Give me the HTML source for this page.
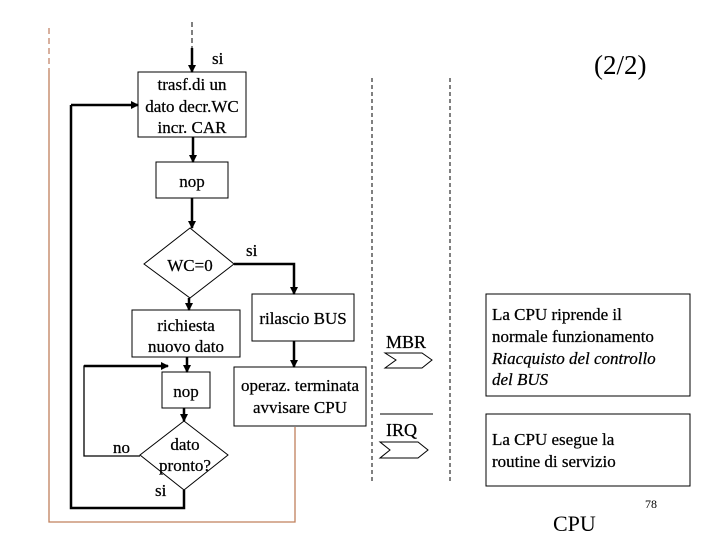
<!DOCTYPE html>
<html><head><meta charset="utf-8"><style>
html,body{margin:0;padding:0;background:#fff;width:720px;height:540px;overflow:hidden}
svg{display:block}
text{font-family:"Liberation Serif",serif;fill:#000;stroke:#000;stroke-width:0.25}
</style></head><body>
<svg width="720" height="540" viewBox="0 0 720 540" xmlns="http://www.w3.org/2000/svg">
<defs><marker id="a" markerWidth="8" markerHeight="8" refX="7" refY="4" orient="auto" markerUnits="userSpaceOnUse"><path d="M0,0 L8,4 L0,8 z" fill="#000"/></marker></defs>
<line x1="49" y1="28" x2="49" y2="70" stroke="#b0603c" stroke-width="1" stroke-dasharray="6,4"/>
<polyline points="49,70 49,522 295,522 295,427" fill="none" stroke="#c0805c" stroke-width="1.3"/>
<line x1="372" y1="78" x2="372" y2="482" stroke="#000" stroke-dasharray="4,3"/>
<line x1="450" y1="78" x2="450" y2="482" stroke="#000" stroke-dasharray="4,3"/>
<line x1="192" y1="22" x2="192" y2="48" stroke="#000" stroke-dasharray="5,3"/>
<line x1="192" y1="48" x2="192" y2="72" stroke="#000" stroke-width="2.5" marker-end="url(#a)"/>
<text x="212" y="64" font-size="17">si</text>
<rect x="138" y="72" width="108" height="65" fill="none" stroke="#000"/>
<text font-size="17" text-anchor="middle"><tspan x="192" y="90">trasf.di un</tspan><tspan x="192" y="112">dato decr.WC</tspan><tspan x="192" y="133">incr. CAR</tspan></text>
<line x1="193" y1="137" x2="193" y2="162" stroke="#000" stroke-width="2.5" marker-end="url(#a)"/>
<rect x="156" y="162" width="72" height="36" fill="none" stroke="#000"/>
<text x="192" y="187" font-size="17" text-anchor="middle">nop</text>
<line x1="192" y1="198" x2="192" y2="228" stroke="#000" stroke-width="2.5" marker-end="url(#a)"/>
<polygon points="190,228 234,264 190,298 144,264" fill="none" stroke="#000"/>
<text x="190" y="271" font-size="17" text-anchor="middle">WC=0</text>
<text x="246" y="256" font-size="17">si</text>
<polyline points="234,264 294,264 294,294" fill="none" stroke="#000" stroke-width="2.5" marker-end="url(#a)"/>
<rect x="252" y="294" width="102" height="47" fill="none" stroke="#000"/>
<text x="303" y="324" font-size="17" text-anchor="middle">rilascio BUS</text>
<line x1="294" y1="341" x2="294" y2="367" stroke="#000" stroke-width="2.5" marker-end="url(#a)"/>
<rect x="234" y="367" width="132" height="59" fill="none" stroke="#000"/>
<text font-size="17" text-anchor="middle"><tspan x="300" y="391">operaz. terminata</tspan><tspan x="300" y="413">avvisare CPU</tspan></text>
<line x1="189" y1="298" x2="189" y2="310" stroke="#000" stroke-width="2.5" marker-end="url(#a)"/>
<rect x="132" y="310" width="108" height="47" fill="none" stroke="#000"/>
<text font-size="17" text-anchor="middle"><tspan x="186" y="331">richiesta</tspan><tspan x="186" y="352">nuovo dato</tspan></text>
<line x1="187" y1="357" x2="187" y2="372" stroke="#000" stroke-width="2.5" marker-end="url(#a)"/>
<rect x="162" y="372" width="48" height="36" fill="none" stroke="#000"/>
<text x="186" y="397" font-size="17" text-anchor="middle">nop</text>
<line x1="184" y1="408" x2="184" y2="421" stroke="#000" stroke-width="2.5" marker-end="url(#a)"/>
<polygon points="184,421 228,455 184,490 140,455" fill="none" stroke="#000"/>
<text font-size="17" text-anchor="middle"><tspan x="185" y="450">dato</tspan><tspan x="185" y="471">pronto?</tspan></text>
<text x="113" y="453" font-size="17">no</text>
<text x="155" y="496" font-size="17">si</text>
<polyline points="140,456 84,456 84,366 166,366" fill="none" stroke="#000" stroke-width="1.3"/>
<line x1="84" y1="366" x2="168" y2="366" stroke="#000" stroke-width="2.5" marker-end="url(#a)"/>
<polyline points="184,490 184,508 71,508 71,105" fill="none" stroke="#000" stroke-width="2.5"/>
<line x1="71" y1="105" x2="138" y2="105" stroke="#000" stroke-width="2.5" marker-end="url(#a)"/>
<text x="386" y="348" font-size="18">MBR</text>
<polygon points="385,353 422,353 432,360 422,368 385,368 396,360" fill="none" stroke="#000"/>
<line x1="380" y1="414" x2="433" y2="414" stroke="#000"/>
<text x="386" y="436" font-size="18">IRQ</text>
<polygon points="380,442 418,442 428,450 418,458 380,458 390,450" fill="none" stroke="#000"/>
<rect x="486" y="294" width="204" height="102" fill="none" stroke="#000"/>
<text font-size="17"><tspan x="492" y="320">La CPU riprende il</tspan><tspan x="492" y="342">normale funzionamento</tspan><tspan x="492" y="364" font-style="italic">Riacquisto del controllo</tspan><tspan x="492" y="385" font-style="italic">del BUS</tspan></text>
<rect x="486" y="414" width="204" height="72" fill="none" stroke="#000"/>
<text font-size="17"><tspan x="492" y="445">La CPU esegue la</tspan><tspan x="492" y="467">routine di servizio</tspan></text>
<text x="645" y="508" font-size="12" style="stroke:none">78</text>
<text x="553" y="531" font-size="22" style="stroke:none">CPU</text>
<text x="594" y="74" font-size="27" style="stroke:none">(2/2)</text>
</svg>
</body></html>
